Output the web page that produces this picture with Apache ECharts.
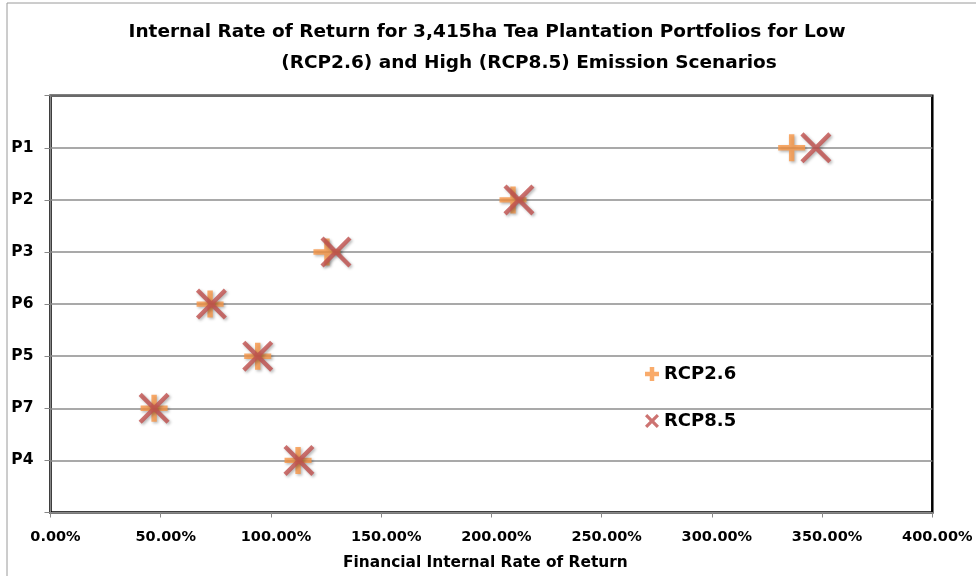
<!DOCTYPE html>
<html><head><meta charset="utf-8">
<script src="https://cdn.jsdelivr.net/npm/echarts@6/dist/echarts.min.js"></script>
<style>html,body{margin:0;padding:0;background:#fff}#c{width:976px;height:576px}</style>
</head><body><div id="c"></div>
<script>
const titleLine1 = 'Internal Rate of Return for 3,415ha Tea Plantation Portfolios for Low';
const titleLine2 = '(RCP2.6) and High (RCP8.5) Emission Scenarios';
const xAxisName = 'Financial Internal Rate of Return';
const categories = ['P4', 'P7', 'P5', 'P6', 'P3', 'P2', 'P1'];
const seriesNames = ['RCP2.6', 'RCP8.5'];
const rcp26 = [112.3, 47.0, 94.0, 72.4, 125.4, 209.8, 336.2];
const rcp85 = [112.7, 47.0, 94.0, 73.0, 129.5, 212.5, 347.2];

const FONT = '"DejaVu Sans"';
const plusPath = 'path://M4,0H6V4H10V6H6V10H4V6H0V4H4Z';
const crossPath = 'path://M0,1L1,0L5,4L9,0L10,1L6,5L10,9L9,10L5,6L1,10L0,9L4,5Z';
const plusIcon = 'path://M3.4,0H6.6V3.4H10V6.6H6.6V10H3.4V6.6H0V3.4H3.4Z';
const crossIcon = 'path://M0,1.6L1.6,0L5,3.4L8.4,0L10,1.6L6.6,5L10,8.4L8.4,10L5,6.6L1.6,10L0,8.4L3.4,5Z';
const shadow = {shadowBlur: 3, shadowColor: 'rgba(0,0,0,0.35)', shadowOffsetX: 1.5, shadowOffsetY: 1.5};

const chart = echarts.init(document.getElementById('c'), null, {renderer: 'canvas'});
chart.setOption({
  animation: false,
  backgroundColor: '#fff',
  graphic: [
    {type: 'rect', shape: {x: 7, y: 3, width: 1000, height: 600}, style: {fill: 'none', stroke: '#9a9a9a', lineWidth: 1}, z: -10},
    {type: 'text', x: 487, y: 32, style: {text: titleLine1, font: 'bold 18.5px ' + FONT, fill: '#000', textAlign: 'center', textVerticalAlign: 'middle'}},
    {type: 'text', x: 529, y: 63, style: {text: titleLine2, font: 'bold 18.5px ' + FONT, fill: '#000', textAlign: 'center', textVerticalAlign: 'middle'}}
  ],
  grid: {left: 50.5, right: 43.7, top: 95.7, bottom: 63.5, show: true, borderColor: '#000', borderWidth: 2.5,
    backgroundColor: 'transparent', outerBoundsMode: 'none', containLabel: false},
  legend: {
    orient: 'vertical', left: 640, top: 360, itemGap: 29, itemWidth: 14, itemHeight: 14,
    textStyle: {fontFamily: 'DejaVu Sans', fontWeight: 'bold', fontSize: 18, color: '#000'},
    data: [
      {name: seriesNames[0], icon: plusIcon, itemStyle: {color: '#F79646'}},
      {name: seriesNames[1], icon: crossIcon, itemStyle: {color: '#C0504D'}}
    ]
  },
  xAxis: {
    type: 'value', min: 0, max: 400, interval: 50,
    name: xAxisName, nameLocation: 'middle', nameGap: 43,
    nameTextStyle: {fontFamily: 'DejaVu Sans', fontWeight: 'bold', fontSize: 15.4, color: '#000', padding: [0, 12, 0, 0]},
    axisLine: {show: true, lineStyle: {color: '#888', width: 1}},
    axisTick: {show: true, length: 5, lineStyle: {color: '#888'}},
    axisLabel: {margin: 17, fontFamily: 'DejaVu Sans', fontWeight: 'bold', fontSize: 14.5, color: '#000',
      padding: [0, 0, 0, 10], formatter: v => v.toFixed(2) + '%'},
    splitLine: {show: false}
  },
  yAxis: {
    type: 'value', min: 0, max: 8, interval: 1,
    axisLine: {show: true, lineStyle: {color: '#888', width: 1}},
    axisTick: {show: true, length: 6, lineStyle: {color: '#888'}},
    axisLabel: {margin: 17, fontFamily: 'DejaVu Sans', fontWeight: 'bold', fontSize: 15.5, color: '#000',
      formatter: v => (v >= 1 && v <= categories.length) ? categories[v - 1] : ''},
    splitLine: {show: true, lineStyle: {color: '#8c8c8c', width: 1.5}}
  },
  series: [
    {name: seriesNames[0], type: 'scatter', symbol: plusPath, symbolSize: 27,
      itemStyle: Object.assign({color: '#F79646'}, shadow),
      data: rcp26.map((v, i) => [v, i + 1]), z: 3},
    {name: seriesNames[1], type: 'scatter', symbol: crossPath, symbolSize: 31,
      itemStyle: Object.assign({color: '#C0504D'}, shadow),
      data: rcp85.map((v, i) => [v, i + 1]), z: 4}
  ]
});
</script></body></html>
